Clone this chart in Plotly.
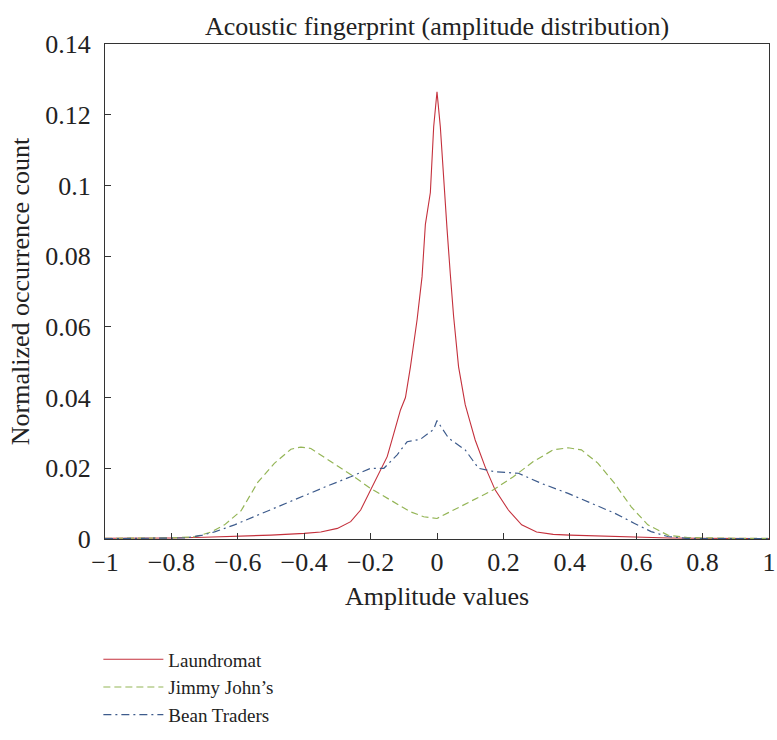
import plotly.graph_objects as go

# Laundromat (red, solid)
x_laundromat = [-1.0, -0.9, -0.8, -0.7, -0.6, -0.5, -0.4, -0.35, -0.3, -0.26, -0.23, -0.2, -0.17,
                -0.15, -0.13, -0.11, -0.095, -0.08, -0.06, -0.045, -0.035, -0.02, -0.01, 0.0,
                0.01, 0.02, 0.03, 0.04, 0.05, 0.065, 0.085, 0.1, 0.115, 0.145, 0.175, 0.215,
                0.255, 0.3, 0.35, 0.4, 0.5, 0.6, 0.7, 0.8, 0.9, 1.0]
y_laundromat = [0.0002, 0.0002, 0.0003, 0.0005, 0.0007, 0.0011, 0.0016, 0.002, 0.003, 0.0049,
                0.0082, 0.0139, 0.0195, 0.0233, 0.0299, 0.0365, 0.040, 0.0487, 0.062, 0.0742,
                0.089, 0.098, 0.1166, 0.1265, 0.1166, 0.1005, 0.088, 0.075, 0.063, 0.0487,
                0.038, 0.033, 0.028, 0.0204, 0.0139, 0.0082, 0.004, 0.002, 0.0013, 0.0011,
                0.0008, 0.0005, 0.0003, 0.0002, 0.0001, 0.0001]

# Jimmy John's (green, dashed)
x_jimmy = [-1.0, -0.9, -0.8, -0.73, -0.68, -0.64, -0.59, -0.54, -0.49, -0.44, -0.41, -0.38,
           -0.31, -0.25, -0.2, -0.14, -0.08, -0.04, 0.0, 0.05, 0.11, 0.17, 0.23, 0.29, 0.35,
           0.395, 0.435, 0.485, 0.535, 0.585, 0.635, 0.695, 0.755, 0.8, 0.9, 1.0]
y_jimmy = [0.0002, 0.0002, 0.0003, 0.0006, 0.002, 0.004, 0.008, 0.016, 0.0214, 0.0254, 0.026,
           0.0256, 0.0214, 0.0176, 0.0143, 0.011, 0.0077, 0.0063, 0.0058, 0.0082, 0.011, 0.0139,
           0.0176, 0.0219, 0.0252, 0.0258, 0.0252, 0.0214, 0.0157, 0.0091, 0.004, 0.0011,
           0.0004, 0.0003, 0.0002, 0.0002]

# Bean Traders (blue, dash-dot)
x_bean = [-1.0, -0.9, -0.8, -0.76, -0.71, -0.67, -0.61, -0.54, -0.47, -0.40, -0.33, -0.26,
          -0.20, -0.16, -0.12, -0.09, -0.05, -0.01, 0.0, 0.035, 0.085, 0.125, 0.175, 0.245,
          0.315, 0.395, 0.465, 0.535, 0.595, 0.645, 0.695, 0.75, 0.8, 0.9, 1.0]
y_bean = [0.0001, 0.0001, 0.0002, 0.0003, 0.001, 0.002, 0.004, 0.0068, 0.0096, 0.0124, 0.015,
          0.0176, 0.020, 0.020, 0.0238, 0.0275, 0.0282, 0.031, 0.0335, 0.0285, 0.0252, 0.020,
          0.019, 0.0186, 0.0157, 0.0129, 0.0101, 0.0073, 0.0044, 0.0021, 0.0007, 0.0002,
          0.0001, 0.0001, 0.0001]

x_ticks = [-1, -0.8, -0.6, -0.4, -0.2, 0, 0.2, 0.4, 0.6, 0.8, 1]
x_ticktext = ["\u22121", "\u22120.8", "\u22120.6", "\u22120.4", "\u22120.2", "0",
              "0.2", "0.4", "0.6", "0.8", "1"]
y_ticks = [0, 0.02, 0.04, 0.06, 0.08, 0.1, 0.12, 0.14]
y_ticktext = ["0", "0.02", "0.04", "0.06", "0.08", "0.1", "0.12", "0.14"]

FONT = "Liberation Serif"
TXT = "#222222"

fig = go.Figure()
fig.add_trace(go.Scatter(x=x_laundromat, y=y_laundromat, mode="lines", name="Laundromat",
                         line=dict(color="#c4303c", width=1.1)))
fig.add_trace(go.Scatter(x=x_jimmy, y=y_jimmy, mode="lines", name="Jimmy John\u2019s",
                         line=dict(color="#94b556", width=1.2, dash="7px,4px")))
fig.add_trace(go.Scatter(x=x_bean, y=y_bean, mode="lines", name="Bean Traders",
                         line=dict(color="#3d5b8c", width=1.2, dash="8px,4px,2px,4px")))

fig.update_layout(
    width=777, height=740,
    margin=dict(l=105, r=8, t=44, b=201, autoexpand=False),
    paper_bgcolor="white", plot_bgcolor="white",
    font=dict(family=FONT, color=TXT, size=20),
    title=dict(text="Acoustic fingerprint (amplitude distribution)", x=0.5625, xanchor="center",
               y=0.965, yanchor="middle", font=dict(size=26, family=FONT, color=TXT)),
    showlegend=True,
    legend=dict(x=-0.01, xanchor="left", y=-0.205, yanchor="top",
                font=dict(size=19, family=FONT, color=TXT),
                bgcolor="rgba(0,0,0,0)", itemwidth=60, tracegroupgap=0),
)
fig.update_xaxes(
    range=[-1, 1], tickvals=x_ticks, ticktext=x_ticktext, automargin=False,
    showgrid=False, zeroline=False,
    showline=True, linecolor="#333333", linewidth=1, mirror=True,
    ticks="inside", ticklen=6, tickcolor="#333333",
    tickfont=dict(size=26, family=FONT, color=TXT),
    title=dict(text="Amplitude values", font=dict(size=26, family=FONT, color=TXT), standoff=10),
)
fig.update_yaxes(
    range=[0, 0.14], tickvals=y_ticks, ticktext=y_ticktext, automargin=False,
    showgrid=False, zeroline=False,
    showline=True, linecolor="#333333", linewidth=1, mirror=True,
    ticks="inside", ticklen=6, tickcolor="#333333", ticklabelstandoff=8,
    tickfont=dict(size=26, family=FONT, color=TXT),
    title=dict(text="Normalized occurrence count", font=dict(size=26, family=FONT, color=TXT), standoff=8),
)

fig.write_html("out.html")
